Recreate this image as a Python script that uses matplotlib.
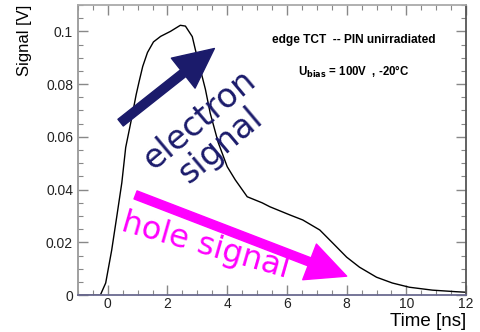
import numpy as np
import matplotlib.pyplot as plt
from matplotlib.ticker import MultipleLocator

# pulse shape
time_ns = [-1.0, -0.25, -0.07, 0.13, 0.30, 0.47, 0.60, 0.78, 0.95, 1.05, 1.17,
           1.33, 1.53, 1.77, 2.10, 2.43, 2.60, 2.83, 2.93, 3.10, 3.27, 3.43,
           3.70, 4.00, 4.27, 4.67, 5.17, 5.43, 6.10, 6.53, 7.10, 7.53, 8.00,
           8.43, 9.00, 9.53, 10.10, 10.87, 11.67, 12.0]
signal_v = [0.0, 0.0, 0.0046, 0.0170, 0.0297, 0.0426, 0.0560, 0.0660, 0.0760,
            0.0810, 0.0867, 0.0920, 0.0960, 0.0981, 0.1000, 0.1023, 0.1020,
            0.0980, 0.0932, 0.0856, 0.0780, 0.0690, 0.0578, 0.0487, 0.0437,
            0.0373, 0.0350, 0.0335, 0.0304, 0.0285, 0.0247, 0.0198, 0.0144,
            0.0106, 0.0068, 0.0046, 0.0030, 0.0019, 0.0013, 0.0011]

navy = '#1b1b6b'
magenta = '#ff00ff'

fig = plt.figure(figsize=(4.81, 3.32), dpi=100)
ax = fig.add_axes([0.162, 0.111, 0.807, 0.874])

ax.plot(time_ns, signal_v, color='black', lw=1.0)

ax.set_xlim(-1, 12)
ax.set_ylim(0, 0.11)
ax.xaxis.set_major_locator(MultipleLocator(2))
ax.xaxis.set_minor_locator(MultipleLocator(0.5))
ax.yaxis.set_minor_locator(MultipleLocator(0.005))
ax.set_yticks([0, 0.02, 0.04, 0.06, 0.08, 0.1])
ax.set_yticklabels(['0', '0.02', '0.04', '0.06', '0.08', '0.1'])

ax.tick_params(which='both', direction='in', top=True, right=True,
               color='#888888', labelsize=10, labelcolor='#222222')
ax.tick_params(which='major', length=7, width=1)
ax.tick_params(which='minor', length=3.5, width=0.8)
ax.tick_params(axis='x', pad=1.5)

for side, c in [('left', '#999999'), ('bottom', '#6a6a90'),
                ('top', '#aaaaaa'), ('right', '#555555')]:
    ax.spines[side].set_color(c)
    ax.spines[side].set_linewidth(1.3)

ax.set_xlabel('Time [ns]', fontsize=13.5, family='Liberation Sans', ha='right')
ax.xaxis.set_label_coords(1.0, -0.06)
ax.set_ylabel('Signal [V]', fontsize=12, family='Liberation Sans', ha='right')
ax.yaxis.set_label_coords(-0.118, 1.0)
for lab in ax.get_xticklabels() + ax.get_yticklabels():
    lab.set_family('Liberation Sans')

ax.text(0.711, 0.879, 'edge TCT  -- PIN unirradiated', transform=ax.transAxes,
        ha='center', va='center', fontsize=8.6, fontweight='bold',
        family='Liberation Sans')
ax.text(0.711, 0.769, r'U$_{\mathbf{bias}}$ = 100V  , -20°C', transform=ax.transAxes,
        ha='center', va='center', fontsize=8.3, fontweight='bold',
        family='Liberation Sans')

# carrier annotations
style = 'simple,head_length=1.3,head_width=1.25,tail_width=0.28'
ax.annotate('', xy=(3.57, 0.0935), xytext=(0.43, 0.0654),
            arrowprops=dict(arrowstyle=style, color=navy, mutation_scale=22,
                            shrinkA=0, shrinkB=0))
ax.annotate('', xy=(8.0, 0.0072), xytext=(0.93, 0.038),
            arrowprops=dict(arrowstyle=style, color=magenta, mutation_scale=22,
                            shrinkA=0, shrinkB=0))
ax.text(3.42, 0.0615, 'electron\nsignal', color=navy, fontsize=24, rotation=40,
        ha='center', va='center', multialignment='center', linespacing=1.0,
        rotation_mode='anchor')
ax.text(3.27, 0.0185, 'hole signal', color=magenta, fontsize=23, rotation=-16,
        ha='center', va='center', rotation_mode='anchor')

fig.savefig('out.png', dpi=100)
